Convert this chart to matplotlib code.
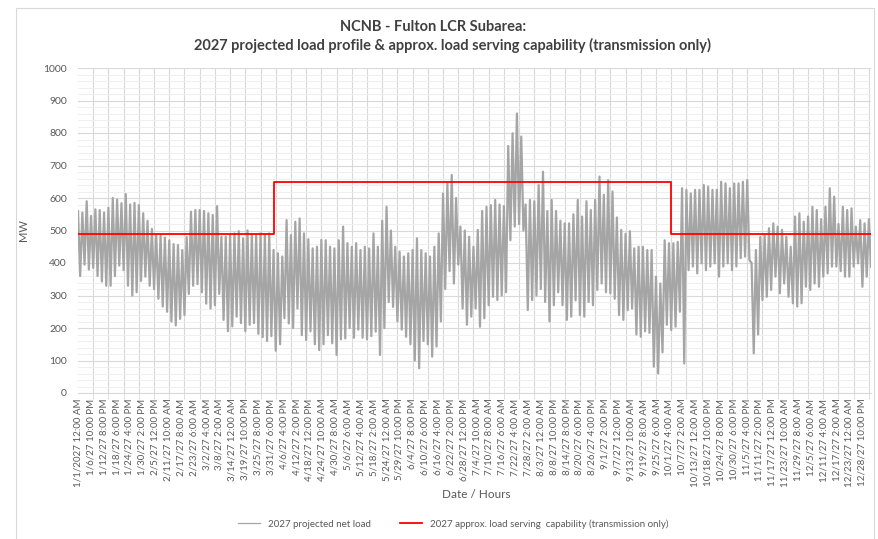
import numpy as np
import matplotlib
matplotlib.use('Agg')
import matplotlib.pyplot as plt
from matplotlib.ticker import MultipleLocator, FixedLocator
from matplotlib.patches import Rectangle

plt.rcParams['font.family'] = ['Lato', 'DejaVu Sans']

# category labels on the hourly axis (one every 142 hours)
tick_labels = ['1/1/2027 12:00 AM', '1/6/27 10:00 PM', '1/12/27 8:00 PM', '1/18/27 6:00 PM',
               '1/24/27 4:00 PM', '1/30/27 2:00 PM', '2/5/27 12:00 PM', '2/11/27 10:00 AM',
               '2/17/27 8:00 AM', '2/23/27 6:00 AM', '3/2/27 4:00 AM', '3/8/27 2:00 AM',
               '3/14/27 12:00 AM', '3/19/27 10:00 PM', '3/25/27 8:00 PM', '3/31/27 6:00 PM',
               '4/6/27 4:00 PM', '4/12/27 2:00 PM', '4/18/27 12:00 PM', '4/24/27 10:00 AM',
               '4/30/27 8:00 AM', '5/6/27 6:00 AM', '5/12/27 4:00 AM', '5/18/27 2:00 AM',
               '5/24/27 12:00 AM', '5/29/27 10:00 PM', '6/4/27 8:00 PM', '6/10/27 6:00 PM',
               '6/16/27 4:00 PM', '6/22/27 2:00 PM', '6/28/27 12:00 PM', '7/4/27 10:00 AM',
               '7/10/27 8:00 AM', '7/16/27 6:00 AM', '7/22/27 4:00 AM', '7/28/27 2:00 AM',
               '8/3/27 12:00 AM', '8/8/27 10:00 PM', '8/14/27 8:00 PM', '8/20/27 6:00 PM',
               '8/26/27 4:00 PM', '9/1/27 2:00 PM', '9/7/27 12:00 PM', '9/13/27 10:00 AM',
               '9/19/27 8:00 AM', '9/25/27 6:00 AM', '10/1/27 4:00 AM', '10/7/27 2:00 AM',
               '10/13/27 12:00 AM', '10/18/27 10:00 PM', '10/24/27 8:00 PM', '10/30/27 6:00 PM',
               '11/5/27 4:00 PM', '11/11/27 2:00 PM', '11/17/27 12:00 PM', '11/23/27 10:00 AM',
               '11/29/27 8:00 AM', '12/5/27 6:00 AM', '12/11/27 4:00 AM', '12/17/27 2:00 AM',
               '12/23/27 12:00 AM', '12/28/27 10:00 PM']
label_step = 142
grid_step = 168
n_hours = 8760

load_high = [560, 555, 590, 545, 565, 563, 555, 570, 600, 595, 584, 612, 580, 585, 578,
             553, 530, 505, 488, 484, 478, 470, 458, 455, 440, 480, 558, 563, 563, 560,
             553, 548, 575, 481, 481, 486, 491, 498, 476, 500, 488, 486, 491, 486, 491,
             440, 430, 420, 532, 486, 527, 537, 491, 473, 445, 450, 471, 470, 450, 445,
             470, 512, 461, 450, 461, 440, 450, 445, 491, 450, 530, 573, 500, 450, 435,
             420, 430, 440, 476, 440, 430, 420, 450, 491, 614, 645, 671, 600, 512, 500, 481,
             450, 502, 560, 573, 578, 594, 580, 575, 760, 799, 860, 789, 580, 594, 590,
             640, 681, 560, 594, 560, 530, 522, 522, 550, 594, 543, 590, 563, 594, 666,
             610, 655, 620, 540, 502, 490, 498, 445, 450, 450, 440, 440, 358, 337, 470,
             461, 461, 465, 630, 625, 614, 625, 625, 640, 635, 625, 625, 650, 645, 630,
             645, 645, 650, 655, 400, 440, 480, 485, 507, 522, 512, 502, 481, 450, 543,
             553, 527, 543, 573, 563, 535, 573, 630, 604, 520, 573, 563, 568, 512, 532,
             522, 535]
load_low = [360, 395, 380, 385, 360, 343, 330, 330, 360, 392, 378, 330, 300, 310, 345,
            358, 330, 320, 290, 266, 250, 220, 208, 228, 240, 305, 330, 335, 310, 275,
            260, 270, 305, 225, 190, 205, 235, 215, 190, 210, 215, 182, 172, 160, 175,
            130, 150, 230, 214, 200, 260, 178, 163, 190, 150, 132, 150, 178, 153, 117,
            165, 168, 200, 170, 195, 170, 165, 175, 189, 117, 200, 280, 265, 220, 195,
            173, 150, 100, 76, 160, 150, 112, 143, 220, 320, 375, 337, 395, 260, 210, 235,
            260, 204, 230, 270, 296, 286, 300, 310, 470, 512, 520, 500, 255, 286, 300,
            320, 280, 220, 270, 310, 270, 225, 235, 285, 240, 235, 280, 270, 317, 337,
            310, 307, 290, 240, 225, 255, 260, 180, 173, 190, 185, 81, 60, 125, 210,
            194, 204, 250, 91, 378, 389, 368, 399, 378, 389, 399, 358, 389, 399, 378,
            389, 415, 420, 409, 122, 180, 286, 296, 317, 358, 307, 337, 296, 276, 266,
            276, 327, 317, 337, 327, 358, 368, 389, 389, 375, 358, 358, 389, 399, 327,
            358, 389]

# load serving capability steps (start hour, MW)
cap_start = [0, 2160, 6552]
cap_mw = [490, 650, 490]

txt = '#595959'
W, H = 879, 539
fig = plt.figure(figsize=(W / 100, H / 100), dpi=100)
fig.patches.append(Rectangle((16 / W, -0.1), (874 - 16) / W, 1.1 - 8 / H, transform=fig.transFigure,
                             fill=False, edgecolor='#D9D9D9', lw=0.8))
ax = fig.add_axes([78 / W, 1 - 393 / H, (871 - 78) / W, (393 - 68) / H])

# hourly curve drawn as a zig-zag between the high and low reads
hrs = np.arange(2 * len(load_high)) * 24
vals = np.empty(2 * len(load_high))
vals[0::2] = load_high
vals[1::2] = load_low
ax.plot(hrs, vals, color='#A5A5A5', lw=1.6, label='2027 projected net load')
ax.step(cap_start + [n_hours], cap_mw + [cap_mw[-1]], where='post', color='#FF0000', lw=1.3,
        label='2027 approx. load serving  capability (transmission only)')

ax.set_xlim(0, n_hours - 1)
ax.set_ylim(0, 1000)
ax.yaxis.set_major_locator(MultipleLocator(100))
ax.yaxis.set_minor_locator(MultipleLocator(20))
ax.xaxis.set_major_locator(FixedLocator(np.arange(len(tick_labels)) * label_step))
ax.set_xticklabels(tick_labels, rotation=90, fontsize=7, color=txt)
ax.xaxis.set_minor_locator(MultipleLocator(grid_step))
ax.tick_params(axis='x', which='major', length=0, pad=4)
ax.tick_params(axis='x', which='minor', length=4, color='#D9D9D9')
ax.tick_params(axis='y', which='both', length=0, labelsize=7.5, labelcolor=txt, pad=8)
ax.grid(axis='y', which='major', color='#D9D9D9', lw=0.8)
ax.grid(axis='y', which='minor', color='#EFEFEF', lw=0.7)
ax.grid(axis='x', which='minor', color='#D9D9D9', lw=0.8)
ax.set_axisbelow(True)
for s in ['top', 'right', 'left']:
    ax.spines[s].set_visible(False)
ax.spines['bottom'].set_color('#D9D9D9')

ax.set_ylabel('MW', fontsize=8, color=txt, labelpad=10)
fig.text(476 / W, 1 - 494 / H, 'Date / Hours', ha='center', va='center', fontsize=8.5, color=txt)
fig.text(433 / W, 1 - 27 / H, 'NCNB - Fulton LCR Subarea:', ha='center', va='center',
         fontsize=10.5, fontweight='bold', color='#404040')
fig.text(453 / W, 1 - 45 / H,
         '2027 projected load profile & approx. load serving capability (transmission only)',
         ha='center', va='center', fontsize=10.5, fontweight='bold', color='#404040')

leg = fig.legend(loc='center', bbox_to_anchor=(453 / W, 1 - 524 / H), ncol=2, frameon=False,
                 fontsize=7, labelcolor=txt, handlelength=2.3, columnspacing=3)
leg.legend_handles[0].set_linewidth(0.9)

fig.savefig('out.png', dpi=100)
